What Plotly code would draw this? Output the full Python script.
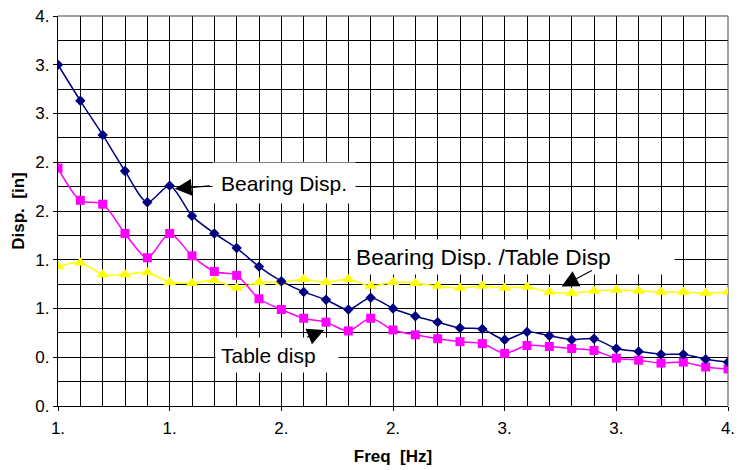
import plotly.graph_objects as go

# ---- data ----
freq = [1.0, 1.1, 1.2, 1.3, 1.4, 1.5, 1.6, 1.7, 1.8, 1.9,
        2.0, 2.1, 2.2, 2.3, 2.4, 2.5, 2.6, 2.7, 2.8, 2.9,
        3.0, 3.1, 3.2, 3.3, 3.4, 3.5, 3.6, 3.7, 3.8, 3.9, 4.0]
bearing_disp = [3.50, 3.13, 2.78, 2.41, 2.09, 2.26, 1.95, 1.77, 1.62, 1.43,
                1.28, 1.17, 1.09, 0.99, 1.11, 1.00, 0.92, 0.86, 0.80, 0.79,
                0.68, 0.76, 0.72, 0.68, 0.69, 0.59, 0.56, 0.53, 0.53, 0.48, 0.45]
table_disp = [2.44, 2.11, 2.07, 1.77, 1.52, 1.77, 1.54, 1.38, 1.34, 1.10,
              0.99, 0.90, 0.86, 0.77, 0.90, 0.78, 0.73, 0.69, 0.66, 0.64,
              0.54, 0.62, 0.61, 0.59, 0.57, 0.49, 0.47, 0.44, 0.45, 0.40, 0.38]
ratio = [1.43, 1.47, 1.35, 1.35, 1.37, 1.27, 1.26, 1.29, 1.21, 1.27,
         1.27, 1.30, 1.27, 1.30, 1.23, 1.27, 1.26, 1.23, 1.21, 1.23,
         1.21, 1.22, 1.17, 1.16, 1.18, 1.19, 1.18, 1.17, 1.17, 1.16, 1.17]

x_tickvals = [1.0, 1.5, 2.0, 2.5, 3.0, 3.5, 4.0]
x_ticktext = ["1.", "1.", "2.", "2.", "3.", "3.", "4."]
y_tickvals = [0.0, 0.5, 1.0, 1.5, 2.0, 2.5, 3.0, 3.5, 4.0]
y_ticktext = ["0.", "0.", "1.", "1.", "2.", "2.", "3.", "3.", "4."]

FONT = "Liberation Sans, Arial, sans-serif"

fig = go.Figure()
fig.add_trace(go.Scatter(
    x=freq, y=ratio, mode="lines+markers", name="Bearing Disp. /Table Disp",
    line=dict(color="#FFFF00", width=1.5, shape="spline", smoothing=0.8),
    marker=dict(symbol="triangle-up", size=11, color="#FFFF00")))
fig.add_trace(go.Scatter(
    x=freq, y=table_disp, mode="lines+markers", name="Table disp",
    line=dict(color="#FF00FF", width=1.5, shape="spline", smoothing=0.8),
    marker=dict(symbol="square", size=9, color="#FF00FF")))
fig.add_trace(go.Scatter(
    x=freq, y=bearing_disp, mode="lines+markers", name="Bearing Disp.",
    line=dict(color="#000080", width=1.5, shape="spline", smoothing=0.8),
    marker=dict(symbol="diamond", size=8, color="#000080")))

fig.update_layout(
    width=742, height=470,
    margin=dict(l=58, r=7, t=11, b=64),
    paper_bgcolor="white", plot_bgcolor="white",
    showlegend=False,
    font=dict(family=FONT, size=17, color="black"),
    xaxis=dict(
        range=[1, 4], tickvals=x_tickvals, ticktext=x_ticktext,
        showgrid=True, gridcolor="black", gridwidth=1.2,
        minor=dict(dtick=0.1, tick0=1, showgrid=True, gridcolor="black", gridwidth=1.2, ticks=""),
        ticks="outside", ticklen=4, tickcolor="black",
        showline=True, linecolor="black", linewidth=1.2, zeroline=False,
        ticklabeloverflow="allow", ticklabelstandoff=2,
        tickfont=dict(family=FONT, size=17),
        title=dict(text="Freq\u00a0 [Hz]", font=dict(family=FONT, size=17, weight="bold"), standoff=13),
    ),
    yaxis=dict(
        range=[0, 4], tickvals=y_tickvals, ticktext=y_ticktext,
        showgrid=True, gridcolor="black", gridwidth=1.2,
        minor=dict(dtick=0.25, tick0=0, showgrid=True, gridcolor="black", gridwidth=1.2, ticks=""),
        ticks="outside", ticklen=4, tickcolor="black",
        showline=True, linecolor="black", linewidth=1.2, zeroline=False,
        ticklabeloverflow="allow",
        tickfont=dict(family=FONT, size=17),
        title=dict(text="Disp.\u00a0 [in]", font=dict(family=FONT, size=17, weight="bold"), standoff=6),
    ),
    shapes=[
        dict(type="line", xref="paper", yref="paper", x0=0, x1=1, y0=1, y1=1,
             line=dict(color="#808080", width=1.5), layer="below"),
        dict(type="line", xref="paper", yref="paper", x0=1, x1=1, y0=0, y1=1,
             line=dict(color="#808080", width=1.5), layer="below"),
    ],
)

# text boxes
fig.add_annotation(x=2.01, y=2.29, xref="x", yref="y", text="Bearing Disp.",
                   showarrow=False, bgcolor="white", width=136, height=34, borderpad=3,
                   font=dict(family=FONT, size=21, color="black"))
fig.add_annotation(x=3.035, y=1.53, xref="x", yref="y", text="Bearing Disp. /Table Disp",
                   showarrow=False, bgcolor="white", width=313, height=24, borderpad=5,
                   align="left", font=dict(family=FONT, size=22.7, color="black"))
fig.add_annotation(x=1.979, y=0.527, xref="x", yref="y", text="Table disp",
                   showarrow=False, bgcolor="white", width=112, height=24, borderpad=5,
                   align="left", font=dict(family=FONT, size=21, color="black"))

# arrows
for (hx, hy, tx, ty) in [(1.523, 2.228, 1.687, 2.258),
                         (3.255, 1.225, 3.397, 1.397),
                         (2.192, 0.780, 2.108, 0.699)]:
    fig.add_annotation(x=hx, y=hy, ax=tx, ay=ty, xref="x", yref="y", axref="x", ayref="y",
                       text="", showarrow=True, arrowhead=2, arrowsize=2.8, arrowwidth=1.2,
                       arrowcolor="black")

fig.write_html("out.html")
